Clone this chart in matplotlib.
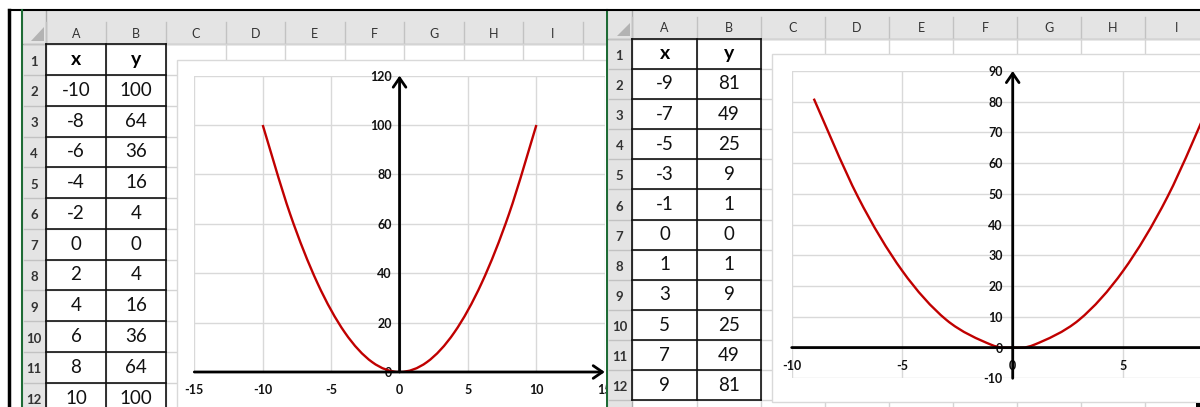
import numpy as np
import matplotlib
matplotlib.use("Agg")
import matplotlib.pyplot as plt
from matplotlib.patches import Rectangle, Polygon, PathPatch
from matplotlib.path import Path

plt.rcParams['font.family'] = ['Lato', 'DejaVu Sans']
plt.rcParams['axes.unicode_minus'] = False
# chart tick labels are bold; sheet texts set their own weight
plt.rcParams['font.weight'] = 'bold'

# data: left sheet (y = x^2, even x) and right sheet (odd x plus 0)
x_left = [-10, -8, -6, -4, -2, 0, 2, 4, 6, 8, 10]
y_left = [100, 64, 36, 16, 4, 0, 4, 16, 36, 64, 100]
x_right = [-9, -7, -5, -3, -1, 0, 1, 3, 5, 7, 9]
y_right = [81, 49, 25, 9, 1, 0, 1, 9, 25, 49, 81]

xticks_left = [-15, -10, -5, 0, 5, 10, 15]
yticks_left = [0, 20, 40, 60, 80, 100, 120]
xticks_right = [-10, -5, 0, 5]
yticks_right = [-10, 0, 10, 20, 30, 40, 50, 60, 70, 80, 90]

W, H = 1200, 407
HDR = '#e4e4e4'
GRID = '#d4d4d4'
HDR_SEP = '#c2c2c2'
GREEN = '#1e6b35'
CURVE = '#c00000'


def px_axes(fig, left, right, top, bottom):
    return fig.add_axes([left / W, (H - bottom) / H, (right - left) / W, (bottom - top) / H])


def draw_sheet(ax, edges, hdr_bot, row_top, row_h, n_rows, x_end, xs, ys, tri):
    x0 = edges[0]
    # header bands
    ax.add_patch(Rectangle((x0, 10), x_end - x0, hdr_bot - 10, fc=HDR, ec='none'))
    ax.add_patch(Rectangle((x0, hdr_bot), edges[1] - x0, H - hdr_bot, fc=HDR, ec='none'))
    ax.add_patch(Polygon(tri, closed=True, fc='#b3b3b3', ec='none'))
    ax.plot([x0, x_end], [hdr_bot, hdr_bot], color='#ababab', lw=1)
    ax.plot([edges[1], edges[1]], [10, H], color='#ababab', lw=1)
    letters = 'ABCDEFGHIJK'
    for i in range(1, len(edges) - 1):
        ax.plot([edges[i], edges[i]], [hdr_bot - 22, hdr_bot], color=HDR_SEP, lw=1)
        ax.text((edges[i] + edges[i + 1]) / 2, hdr_bot - 10, letters[i - 1],
                ha='center', va='center', fontsize=9, fontweight='normal', color='#333333')
    # cell grid
    for k in range(n_rows + 1):
        y = row_top + k * row_h
        ax.plot([edges[1], x_end], [y, y], color=GRID, lw=1)
        ax.plot([x0 + 2, edges[1]], [y, y], color=HDR_SEP, lw=1)
        if k < 12:
            ax.text((x0 + edges[1]) / 2, y + row_h / 2 + 2, str(k + 1), ha='center', va='center',
                    fontsize=9.5, fontweight='bold', color='#333333')
    for e in edges[2:]:
        ax.plot([e, e], [hdr_bot, H], color=GRID, lw=1)
    # table borders
    n_tab = len(xs) + 1
    for k in range(n_tab + 1):
        y = row_top + k * row_h
        ax.plot([edges[1], edges[3]], [y, y], color='#111111', lw=1.2)
    for e in edges[1:4]:
        ax.plot([e, e], [row_top, row_top + n_tab * row_h], color='#111111', lw=1.2)
    # table text
    ca, cb = (edges[1] + edges[2]) / 2, (edges[2] + edges[3]) / 2
    ax.text(ca, row_top + row_h / 2, 'x', ha='center', va='center', fontsize=14, fontweight='bold')
    ax.text(cb, row_top + row_h / 2, 'y', ha='center', va='center', fontsize=14, fontweight='bold')
    for k, (xv, yv) in enumerate(zip(xs, ys)):
        yc = row_top + (k + 1.5) * row_h
        ax.text(ca, yc, str(xv), ha='center', va='center', fontsize=13.5,
                fontweight='normal', color='#111111')
        ax.text(cb, yc, str(yv), ha='center', va='center', fontsize=13.5,
                fontweight='normal', color='#111111')


def smooth_path(xs, ys):
    pts = np.column_stack([xs, ys]).astype(float)
    n = len(pts)
    verts, codes = [pts[0]], [Path.MOVETO]
    for i in range(n - 1):
        p0, p1 = pts[max(i - 1, 0)], pts[i]
        p2, p3 = pts[i + 1], pts[min(i + 2, n - 1)]
        verts += [p1 + (p2 - p0) / 6, p2 - (p3 - p1) / 6, p2]
        codes += [Path.CURVE4] * 3
    return Path(verts, codes)


def style_chart(ax, xlim, ylim, xticks, yticks, ypad, xpad):
    ax.set_xlim(*xlim)
    ax.set_ylim(*ylim)
    ax.set_xticks(xticks)
    ax.set_yticks(yticks)
    ax.grid(True, color='#d9d9d9', lw=1)
    ax.set_axisbelow(True)
    ax.spines['left'].set_position(('data', 0))
    ax.spines['bottom'].set_position(('data', 0))
    for s in ax.spines.values():
        s.set_visible(False)
    ax.tick_params(axis='both', length=0, labelsize=9, labelcolor='#111111')
    ax.tick_params(axis='y', pad=ypad)
    ax.tick_params(axis='x', pad=xpad)
    arrow = dict(arrowstyle='->, head_length=0.55, head_width=0.38', color='black',
                 lw=2, shrinkA=0, shrinkB=0, mutation_scale=12)
    ax.annotate('', xy=(1, 0), xytext=(0, 0), xycoords=('axes fraction', 'data'),
                textcoords=('axes fraction', 'data'), arrowprops=arrow, annotation_clip=False)
    ax.annotate('', xy=(0, 1), xytext=(0, 0), xycoords=('data', 'axes fraction'),
                textcoords=('data', 'axes fraction'), arrowprops=arrow, annotation_clip=False)


fig = plt.figure(figsize=(W / 100, H / 100), dpi=100)

# ---- left sheet ----
bg = fig.add_axes([0, 0, 1, 1])
bg.set_xlim(0, W)
bg.set_ylim(H, 0)
bg.axis('off')
edges_l = [22, 46, 106, 166, 225.5, 285, 344.5, 404, 463.5, 523, 582.5, 642]
draw_sheet(bg, edges_l, 44, 44.2, 30.77, 13, 606, x_left, y_left,
           [(44, 27), (44, 41), (31, 41)])
bg.add_patch(Rectangle((176.5, 60), 600, 400, fc='white', ec='#d9d9d9', lw=1, zorder=5))
bg.plot([9, 9], [10, H], color='black', lw=2.5, zorder=6)
bg.plot([9, W], [10, 10], color='black', lw=1.5, zorder=6)

axL = px_axes(fig, 194.3, 604.8, 75.6, 372)
axL.add_patch(PathPatch(smooth_path(x_left, y_left), fill=False, ec=CURVE, lw=1.7, zorder=3))
style_chart(axL, (-15, 15), (0, 120), xticks_left, yticks_left, ypad=5.5, xpad=9)

# ---- right sheet ----
bg2 = px_axes(fig, 606, W, 0, H)
bg2.set_xlim(606, W)
bg2.set_ylim(H, 0)
bg2.set_xticks([])
bg2.set_yticks([])
for s in bg2.spines.values():
    s.set_visible(False)
bg2.set_facecolor('white')
edges_r = [607, 632, 697, 761, 825, 889, 953, 1017, 1081, 1145, 1209]
draw_sheet(bg2, edges_r, 38.5, 38.7, 30.15, 13, W, x_right, y_right,
           [(630, 23), (630, 36), (617, 36)])
bg2.add_patch(Rectangle((772, 54), 500, 348, fc='white', ec='#d9d9d9', lw=1, zorder=5))
bg2.plot([606.5, 606.5], [10, H], color=GREEN, lw=1.5, zorder=6)
bg2.plot([606, W], [10, 10], color='black', lw=1.5, zorder=6)
bg2.add_patch(Rectangle((1196, 403), 4, 4, fc='black', ec='none', zorder=6))
bg.plot([22, 22], [10, H], color=GREEN, lw=1.5, zorder=6)

axR = px_axes(fig, 791.7, 1233.7, 71, 378.3)
axR.add_patch(PathPatch(smooth_path(x_right, y_right), fill=False, ec=CURVE, lw=1.7, zorder=3))
style_chart(axR, (-10, 10), (-10, 90), xticks_right, yticks_right, ypad=7, xpad=9)

fig.savefig('out.png', dpi=100, facecolor='white')
